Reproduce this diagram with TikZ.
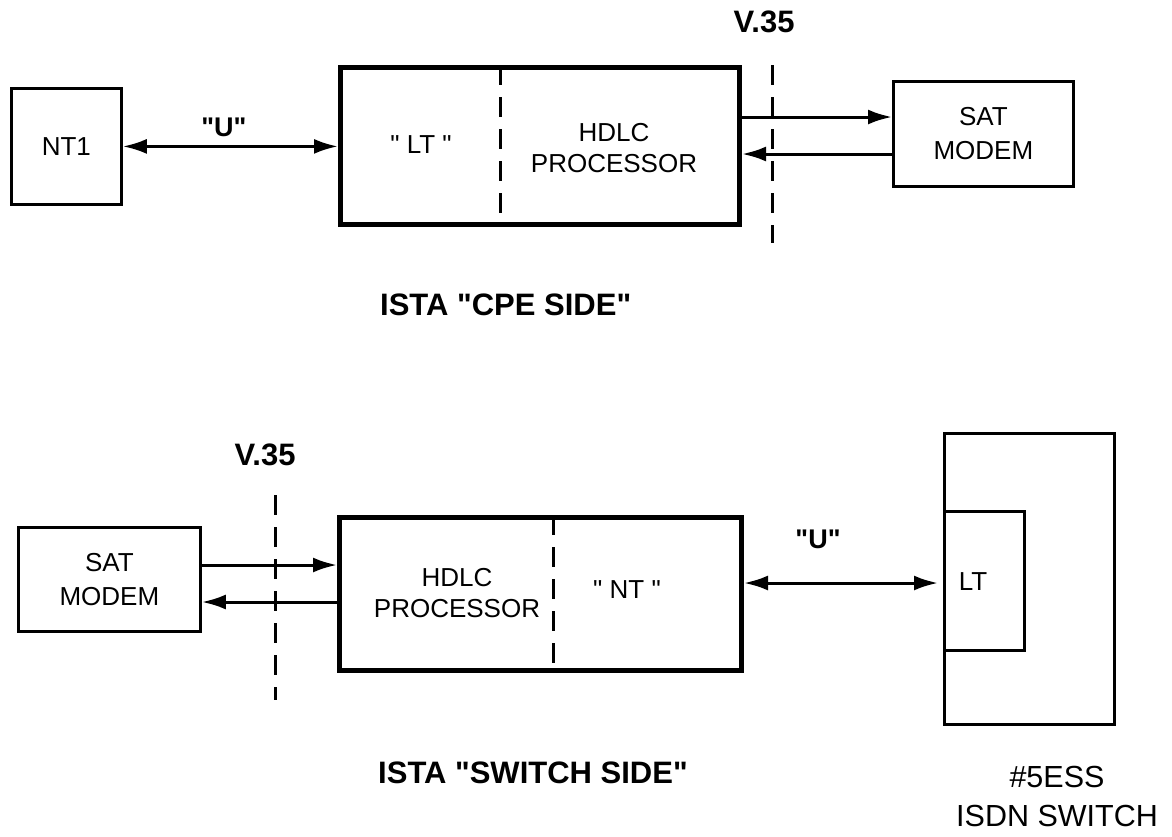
\documentclass[tikz,border=0pt]{standalone}
\usepackage{fontspec}
\setmainfont{Liberation Sans}[Ligatures=TeXOff]
\usetikzlibrary{arrows.meta,calc}
\begin{document}
\begin{tikzpicture}[x=1pt,y=-1pt,
  lbl/.style={inner sep=0pt, align=center, font=\fontsize{26}{33}\selectfont},
  hdlc/.style={inner sep=0pt, align=center, font=\fontsize{26}{30.5}\selectfont},
  blbl/.style={inner sep=0pt, font=\bfseries\fontsize{31}{36}\selectfont},
  ulbl/.style={inner sep=0pt, font=\bfseries\fontsize{27}{30}\selectfont},
  biglbl/.style={inner sep=0pt, align=center, font=\fontsize{30.5}{39}\selectfont},
  thinbox/.style={draw, line width=2.8pt, inner sep=0pt, align=center, font=\fontsize{26}{34}\selectfont},
  thickbox/.style={draw, line width=5pt, inner sep=0pt},
  sepline/.style={line width=3pt, dash pattern=on 20pt off 12pt},
  conn/.style={line width=3pt, -{Latex[length=24pt,width=15pt]}},
  both/.style={line width=3pt, {Latex[length=24pt,width=15pt]}-{Latex[length=24pt,width=15pt]}}
]
\fill[white] (0,0) rectangle (1172,836);
\useasboundingbox (0,0) rectangle (1172,836);

% ---------- CPE side ----------
\node[thinbox, minimum width=110pt, minimum height=116pt, anchor=north west] (nt1) at (10,87) {NT1};
\node[thickbox, minimum width=399pt, minimum height=157pt, anchor=north west] (cpe) at (338,65) {};
\draw[sepline] (cpe.north west) ++(162,0) -- ++(0,157);
\node[lbl] (cpelt) at (421,145) {" LT "};
\node[hdlc] (cpehdlc) at (614,148) {HDLC\\PROCESSOR};
\node[thinbox, minimum width=180pt, minimum height=105pt, anchor=north west] (sat1) at (892,80) {SAT\\MODEM};

\draw[both] (nt1.east) -- (nt1.east -| cpe.west);
\node[ulbl] (u1) at (224,127) {"U"};

\coordinate (ya) at (0,117);
\coordinate (yb) at (0,154);
\draw[conn] (cpe.east |- ya) -- (sat1.west |- ya);
\draw[conn] (sat1.west |- yb) -- (cpe.east |- yb);

\node[blbl] (v1) at (764,22) {V.35};
\coordinate (v1top) at (772,65);
\coordinate (v1bot) at (772,243);
\draw[sepline] (v1top) -- (v1bot);

\node[blbl, anchor=west] (cap1) at (380,305) {ISTA "CPE SIDE"};

% ---------- Switch side ----------
\node[thinbox, minimum width=182pt, minimum height=104pt, anchor=north west] (sat2) at (17,526) {SAT\\MODEM};
\node[thickbox, minimum width=402pt, minimum height=153pt, anchor=north west] (sw) at (337,515) {};
\draw[sepline] (sw.north west) ++(216,0) -- ++(0,153);
\node[hdlc] (swhdlc) at (457,593) {HDLC\\PROCESSOR};
\node[lbl] (swnt) at (627,590) {" NT "};

\coordinate (yc) at (0,565);
\coordinate (yd) at (0,602);
\draw[conn] (sat2.east |- yc) -- (sw.west |- yc);
\draw[conn] (sw.west |- yd) -- (sat2.east |- yd);

\node[blbl] (v2) at (265,455) {V.35};
\coordinate (v2top) at (275,495);
\coordinate (v2bot) at (275,700);
\draw[sepline] (v2top) -- (v2bot);

\node[thinbox, minimum width=170pt, minimum height=291pt, anchor=north west] (ess) at (943,432) {};
\node[thinbox, minimum width=80pt, minimum height=139pt, anchor=north west] (esslt) at (943,510) {};
\node[lbl] (esslttext) at (973,582) {LT};

\coordinate (ye) at (0,583);
\draw[both, shorten >=5pt] (sw.east |- ye) -- (esslt.west |- ye);
\node[ulbl] (u2) at (818,539) {"U"};

\node[blbl, anchor=west] (cap2) at (378,773) {ISTA "SWITCH SIDE"};
\node[biglbl] (esslbl) at (1057,796) {\#5ESS\\ISDN SWITCH};
\end{tikzpicture}
\end{document}
